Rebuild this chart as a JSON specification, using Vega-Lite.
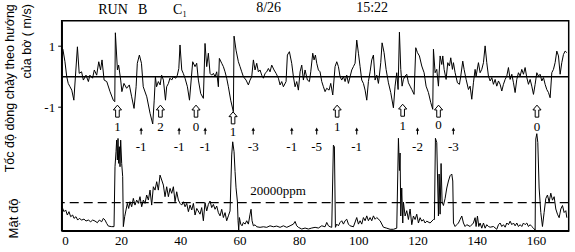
{
"$schema": "https://vega.github.io/schema/vega-lite/v6.json",
"width": 507, "height": 210,
"autosize": {"type": "none"},
"padding": {"left": 61.7, "top": 20.7, "right": 6.3, "bottom": 21.3},
"background": "white",
"config": {"view": {"stroke": "black", "strokeWidth": 1.5}, "font": "Liberation Serif", "axis": {"grid": false, "labelColor": "black", "domainColor": "black", "tickColor": "black", "titleColor": "black"}},
"datasets": {
"vel": [
{"t":0,"v":0.85},{"t":0.4,"v":0.9},{"t":1.1,"v":0.49},{"t":1.7,"v":0.0},{"t":2.2,"v":-0.22},{"t":2.8,"v":-0.33},{"t":3.4,"v":-0.44},{"t":4.1,"v":-0.77},{"t":5.3,"v":0.98},{"t":5.9,"v":0.11},{"t":6.7,"v":0.16},{"t":7.3,"v":-0.11},{"t":8.2,"v":0.05},{"t":9.0,"v":-0.16},{"t":9.5,"v":0.05},{"t":10.4,"v":-0.05},{"t":11.0,"v":0.22},{"t":11.8,"v":0.05},{"t":12.5,"v":0.49},{"t":13.1,"v":0.22},{"t":13.6,"v":0.55},{"t":14.3,"v":-0.11},{"t":15.2,"v":-0.16},{"t":16.3,"v":-0.49},{"t":17.4,"v":-0.77},{"t":17.9,"v":-0.82},{"t":18.1,"v":1.44},{"t":18.8,"v":0.22},{"t":19.2,"v":0.38},{"t":19.9,"v":-0.11},{"t":20.3,"v":-0.49},{"t":21.0,"v":-0.22},{"t":21.9,"v":-0.38},{"t":22.8,"v":-0.27},{"t":23.6,"v":-0.66},{"t":24.4,"v":-1.04},{"t":25.1,"v":-0.33},{"t":25.5,"v":0.44},{"t":26.2,"v":0.71},{"t":26.9,"v":0.44},{"t":27.5,"v":-0.33},{"t":28.7,"v":-0.66},{"t":29.8,"v":-1.2},{"t":30.7,"v":-1.55},{"t":31.2,"v":-0.77},{"t":31.6,"v":0.0},{"t":32.0,"v":-0.33},{"t":32.6,"v":-0.16},{"t":33.2,"v":-0.27},{"t":33.7,"v":0.05},{"t":34.3,"v":-0.11},{"t":35.0,"v":-0.77},{"t":35.4,"v":-0.33},{"t":36.0,"v":-0.22},{"t":36.5,"v":-0.05},{"t":37.1,"v":-0.11},{"t":37.7,"v":0.0},{"t":38.5,"v":-0.05},{"t":39.0,"v":0.05},{"t":39.5,"v":0.27},{"t":39.9,"v":1.04},{"t":40.5,"v":0.22},{"t":41.0,"v":0.11},{"t":41.6,"v":-0.05},{"t":42.4,"v":-0.33},{"t":43.1,"v":-0.77},
{"t":44.18,"v":0.49},{"t":44.97,"v":0.33},{"t":45.53,"v":0.44},{"t":46.1,"v":-0.11},{"t":46.88,"v":-0.55},{"t":47.78,"v":-0.71},{"t":48.34,"v":1.09},{"t":48.91,"v":0.33},{"t":49.47,"v":0.77},{"t":50.03,"v":0.11},{"t":50.59,"v":0.05},{"t":51.16,"v":0.11},{"t":51.72,"v":0.0},{"t":52.28,"v":0.16},{"t":52.84,"v":-0.33},{"t":53.18,"v":0.6},{"t":53.97,"v":0.44},{"t":54.53,"v":0.33},{"t":55.09,"v":0.16},{"t":55.65,"v":-0.05},{"t":56.22,"v":-0.33},{"t":57.0,"v":-0.77},{"t":57.9,"v":-1.15},{"t":58.13,"v":1.33},{"t":58.8,"v":0.87},{"t":59.59,"v":0.49},{"t":60.15,"v":0.33},{"t":60.72,"v":0.16},{"t":61.28,"v":0.0},{"t":62.18,"v":-0.11},{"t":62.96,"v":-0.27},{"t":63.53,"v":-0.11},{"t":64.09,"v":0.0},{"t":64.65,"v":0.55},{"t":65.21,"v":0.22},{"t":65.78,"v":0.44},{"t":66.34,"v":0.16},{"t":66.9,"v":0.22},{"t":67.46,"v":0.05},{"t":68.03,"v":-0.05},{"t":68.59,"v":0.11},{"t":69.15,"v":0.16},{"t":69.71,"v":0.27},{"t":70.27,"v":0.16},{"t":70.84,"v":0.38},{"t":71.62,"v":0.22},{"t":72.3,"v":0.11},{"t":73.09,"v":-0.05},{"t":73.65,"v":-0.27},{"t":74.21,"v":-0.16},{"t":74.77,"v":-0.33},{"t":75.67,"v":-0.16},{"t":76.12,"v":0.71},{"t":76.8,"v":0.82},{"t":77.58,"v":0.44},{"t":78.15,"v":0.0},{"t":78.71,"v":-0.33},{"t":79.27,"v":-0.16},{"t":79.83,"v":-0.44},{"t":80.4,"v":0.16},{"t":80.96,"v":0.38},{"t":81.52,"v":-0.11},{"t":82.08,"v":0.22},{"t":82.87,"v":-0.11},{"t":83.55,"v":-0.16},{"t":84.0,"v":0.16},{"t":84.67,"v":0.77},{"t":85.12,"v":0.55},{"t":85.57,"v":0.71},{"t":86.02,"v":0.44},{"t":86.58,"v":0.22},{"t":87.14,"v":0.16},{"t":87.71,"v":-0.16},{"t":88.27,"v":-0.33},{"t":88.83,"v":-0.49},{"t":89.39,"v":-0.38},{"t":90.18,"v":-0.44},{"t":90.74,"v":-0.22},{"t":91.42,"v":-0.6},{"t":92.2,"v":0.33},{"t":92.77,"v":0.49},{"t":93.33,"v":0.33},{"t":93.89,"v":0.0},{"t":94.45,"v":-0.11},{"t":95.02,"v":0.0},{"t":95.58,"v":-0.16},{"t":96.14,"v":0.05},{"t":96.7,"v":-0.22},{"t":97.26,"v":0.0},{"t":97.83,"v":0.22},{"t":98.39,"v":0.33},{"t":98.95,"v":0.44},{"t":99.51,"v":1.2},{"t":100.08,"v":0.77},{"t":100.64,"v":0.33},{"t":101.2,"v":-0.11},{"t":101.76,"v":-0.22},{"t":102.33,"v":-0.44},{"t":102.89,"v":-0.77},{"t":103.45,"v":-0.16},{"t":104.01,"v":0.16},{"t":104.57,"v":0.55},{"t":105.14,"v":0.71},{"t":105.7,"v":-0.11},{"t":106.26,"v":0.05},{"t":106.82,"v":-0.22},{"t":107.1,"v":0.0},
{"t":107.61,"v":0.46},{"t":108.06,"v":1.11},{"t":108.73,"v":0.79},{"t":109.41,"v":0.24},{"t":110.2,"v":-0.2},{"t":110.98,"v":-0.52},{"t":111.88,"v":-1.02},{"t":112.44,"v":-0.31},{"t":113.01,"v":0.13},{"t":113.46,"v":-0.42},{"t":113.91,"v":1.46},{"t":114.36,"v":0.24},{"t":114.81,"v":-0.31},{"t":115.26,"v":-0.09},{"t":115.82,"v":0.02},{"t":116.38,"v":0.08},{"t":116.94,"v":-0.2},{"t":117.5,"v":-0.31},{"t":118.07,"v":-0.42},{"t":118.85,"v":-0.58},{"t":119.42,"v":0.95},{"t":119.98,"v":0.79},{"t":120.65,"v":0.68},{"t":121.44,"v":0.35},{"t":122.23,"v":0.13},{"t":122.9,"v":-0.31},{"t":123.69,"v":-0.52},{"t":124.48,"v":-0.85},{"t":125.15,"v":-1.07},{"t":125.38,"v":0.9},{"t":125.94,"v":0.13},{"t":126.5,"v":0.24},{"t":127.06,"v":-0.31},{"t":127.63,"v":0.68},{"t":128.19,"v":0.4},{"t":128.53,"v":0.68},{"t":128.98,"v":0.24},{"t":129.65,"v":-0.09},{"t":130.21,"v":0.46},{"t":130.78,"v":0.35},{"t":131.22,"v":0.62},{"t":131.79,"v":0.24},{"t":132.12,"v":0.46},{"t":132.69,"v":0.13},{"t":133.47,"v":-0.2},{"t":134.15,"v":-0.25},{"t":134.6,"v":0.02},{"t":135.27,"v":0.51},{"t":135.72,"v":0.24},{"t":136.4,"v":-0.09},{"t":137.19,"v":-0.42},{"t":137.75,"v":-0.31},{"t":138.31,"v":-0.74},{"t":138.87,"v":-0.2},{"t":139.43,"v":0.24},{"t":139.77,"v":0.02},{"t":140.56,"v":0.46},{"t":141.12,"v":0.13},{"t":141.68,"v":0.24},{"t":142.25,"v":0.46},{"t":142.81,"v":1.01},{"t":143.37,"v":0.46},{"t":143.93,"v":0.02},{"t":144.5,"v":-0.14},{"t":145.06,"v":-0.03},{"t":145.62,"v":-0.25},{"t":146.18,"v":-0.09},{"t":146.74,"v":-0.31},{"t":147.31,"v":-0.14},{"t":147.87,"v":-0.25},{"t":148.43,"v":-0.47},{"t":148.99,"v":-0.25},{"t":149.56,"v":-0.09},{"t":150.12,"v":0.02},{"t":150.68,"v":0.3},{"t":151.24,"v":-0.09},{"t":151.81,"v":0.08},{"t":152.37,"v":-0.2},{"t":152.93,"v":-0.52},{"t":153.49,"v":-0.09},{"t":154.05,"v":0.13},{"t":154.62,"v":0.02},{"t":155.18,"v":0.24},{"t":155.74,"v":0.08},{"t":156.3,"v":0.3},{"t":156.87,"v":-0.03},{"t":157.43,"v":-0.25},{"t":157.99,"v":-0.09},{"t":158.55,"v":-0.31},{"t":159.12,"v":-0.58},{"t":159.68,"v":-0.25},{"t":160.24,"v":0.13},{"t":160.8,"v":0.02},{"t":161.36,"v":0.08},{"t":161.93,"v":-0.14},{"t":162.49,"v":-0.03},{"t":163.05,"v":-0.25},{"t":163.61,"v":-0.42},{"t":164.18,"v":-0.52},{"t":164.74,"v":-0.69},{"t":165.3,"v":0.13},{"t":165.86,"v":0.24},{"t":166.42,"v":0.46},{"t":166.99,"v":0.84},{"t":167.55,"v":0.68},{"t":168.11,"v":0.08},{"t":168.67,"v":0.46},{"t":169.24,"v":0.73},{"t":169.8,"v":0.84},{"t":170.36,"v":0.79}
],
"dens": [
{"t":0,"d":17100},{"t":0.33,"d":15900},{"t":0.78,"d":13600},{"t":1.34,"d":14800},{"t":1.9,"d":11200},{"t":2.46,"d":13600},{"t":3.03,"d":10000},{"t":3.7,"d":11200},{"t":4.15,"d":8800},{"t":4.82,"d":10000},{"t":5.39,"d":7600},{"t":5.95,"d":8800},{"t":6.74,"d":7600},{"t":7.52,"d":8300},{"t":8.2,"d":6900},{"t":8.99,"d":7600},{"t":9.77,"d":6400},{"t":10.45,"d":7600},{"t":11.23,"d":6900},{"t":12.02,"d":5700},{"t":12.7,"d":7600},{"t":13.48,"d":6400},{"t":14.05,"d":8800},{"t":14.61,"d":7600},{"t":15.17,"d":5200},{"t":15.74,"d":3300},{"t":16.86,"d":2900},{"t":17.65,"d":2900},{"t":17.98,"d":45700},{"t":18.32,"d":56400},{"t":18.54,"d":64700},{"t":18.77,"d":50500},{"t":18.99,"d":65900},{"t":19.22,"d":48100},{"t":19.44,"d":60000},{"t":19.67,"d":45700},{"t":19.89,"d":64700},{"t":20.23,"d":48100},{"t":20.57,"d":38600},{"t":20.79,"d":2900},{"t":21.24,"d":10000},{"t":21.69,"d":14800},{"t":22.14,"d":19500},{"t":22.59,"d":15900},{"t":23.04,"d":20700},{"t":23.6,"d":17100},{"t":24.16,"d":23100},{"t":24.72,"d":18300},{"t":25.29,"d":21900},{"t":25.85,"d":19500},{"t":26.41,"d":24300},{"t":26.98,"d":17100},{"t":27.54,"d":21900},{"t":28.1,"d":19500},{"t":28.66,"d":25500},{"t":29.23,"d":21900},{"t":29.79,"d":29000},{"t":30.35,"d":18300},{"t":30.91,"d":31400},{"t":31.48,"d":29000},{"t":32.04,"d":35000},{"t":32.6,"d":29000},{"t":33.16,"d":39700},{"t":33.73,"d":36200},{"t":34.29,"d":32600},{"t":34.85,"d":24300},{"t":35.41,"d":31400},{"t":35.98,"d":24300},{"t":36.54,"d":30200},{"t":37.1,"d":26700},{"t":37.67,"d":31400},{"t":38.23,"d":20700},{"t":38.79,"d":27800},{"t":39.35,"d":21900},{"t":39.92,"d":19500},{"t":40.48,"d":18300},{"t":41.04,"d":20700},{"t":41.61,"d":17100},{"t":42.17,"d":19500},{"t":42.73,"d":13600},{"t":43.29,"d":18300},{"t":43.86,"d":14800},{"t":44.42,"d":19500},{"t":44.98,"d":11200},{"t":45.55,"d":15900},
{"t":46.66,"d":11800},{"t":47.22,"d":16500},{"t":47.78,"d":7100},{"t":48.34,"d":20000},{"t":48.91,"d":14100},{"t":49.47,"d":18800},{"t":50.03,"d":21200},{"t":50.59,"d":16500},{"t":51.16,"d":18800},{"t":51.72,"d":15300},{"t":52.28,"d":17600},{"t":52.84,"d":12900},{"t":53.41,"d":10600},{"t":53.97,"d":15300},{"t":54.53,"d":9400},{"t":55.09,"d":12900},{"t":55.65,"d":7100},{"t":56.22,"d":10600},{"t":56.78,"d":14100},{"t":57.34,"d":54100},{"t":57.68,"d":63500},{"t":58.13,"d":56400},{"t":58.47,"d":42300},{"t":58.8,"d":30600},{"t":59.25,"d":21200},{"t":59.48,"d":7100},{"t":59.7,"d":500},{"t":59.93,"d":9400},{"t":60.38,"d":4700},{"t":60.83,"d":3500},{"t":61.28,"d":5900},{"t":61.84,"d":4700},{"t":62.4,"d":7100},{"t":62.96,"d":4700},{"t":63.53,"d":11800},{"t":63.86,"d":15300},{"t":64.2,"d":7100},{"t":64.65,"d":3500},{"t":65.21,"d":4200},{"t":65.78,"d":2800},{"t":66.9,"d":2400},{"t":68.03,"d":2800},{"t":69.15,"d":2400},{"t":70.27,"d":3500},{"t":71.4,"d":2800},{"t":72.52,"d":3300},{"t":73.65,"d":2400},{"t":74.77,"d":3500},{"t":75.9,"d":2400},{"t":77.02,"d":3500},{"t":78.15,"d":4700},{"t":78.71,"d":6600},{"t":79.27,"d":3500},{"t":79.83,"d":2400},{"t":80.96,"d":1200},{"t":82.08,"d":1900},{"t":83.21,"d":1200},{"t":84.33,"d":1900},{"t":85.46,"d":2400},{"t":86.58,"d":1900},{"t":87.71,"d":3500},{"t":88.83,"d":2800},{"t":89.39,"d":5900},{"t":89.96,"d":3500},{"t":90.52,"d":2800},{"t":91.08,"d":2400},{"t":91.64,"d":61100},{"t":91.98,"d":59900},{"t":92.32,"d":2400},{"t":92.77,"d":4700},{"t":93.33,"d":3500},{"t":93.89,"d":5900},{"t":94.45,"d":7100},{"t":95.02,"d":4700},{"t":95.58,"d":7100},{"t":96.14,"d":8200},{"t":96.7,"d":4700},{"t":97.26,"d":3500},{"t":98.39,"d":2800},{"t":99.51,"d":9400},{"t":100.08,"d":4700},{"t":100.64,"d":7100},{"t":101.2,"d":4700},{"t":101.76,"d":9400},{"t":102.33,"d":7100},{"t":102.89,"d":10600},{"t":103.45,"d":7100},{"t":104.01,"d":9400},{"t":104.57,"d":7100},{"t":105.14,"d":10600},{"t":105.7,"d":8200},{"t":106.26,"d":9400},{"t":107.39,"d":7100},
{"t":108.51,"d":2500},{"t":109.63,"d":1800},{"t":110.76,"d":1000},{"t":111.88,"d":1000},{"t":113.01,"d":1800},{"t":113.57,"d":66000},{"t":113.91,"d":43000},{"t":114.13,"d":55500},{"t":114.36,"d":10500},{"t":114.69,"d":30500},{"t":115.03,"d":5500},{"t":115.26,"d":20500},{"t":115.82,"d":10500},{"t":116.38,"d":14300},{"t":116.94,"d":8000},{"t":117.51,"d":15500},{"t":118.07,"d":4300},{"t":118.63,"d":10500},{"t":119.19,"d":8000},{"t":119.75,"d":11800},{"t":120.32,"d":5500},{"t":120.88,"d":9300},{"t":121.44,"d":6800},{"t":122.0,"d":8000},{"t":122.57,"d":5500},{"t":123.13,"d":6800},{"t":124.25,"d":5500},{"t":125.38,"d":8000},{"t":125.71,"d":8000},{"t":126.05,"d":66000},{"t":126.5,"d":63000},{"t":126.84,"d":30500},{"t":127.06,"d":10500},{"t":127.29,"d":40500},{"t":127.63,"d":11800},{"t":127.96,"d":48000},{"t":128.3,"d":20500},{"t":128.75,"d":18000},{"t":129.31,"d":23000},{"t":129.88,"d":30500},{"t":130.44,"d":35500},{"t":131.0,"d":39300},{"t":131.56,"d":40500},{"t":131.9,"d":35500},{"t":132.13,"d":5500},{"t":132.69,"d":3000},{"t":133.25,"d":4300},{"t":133.81,"d":5500},{"t":134.37,"d":8000},{"t":134.94,"d":10500},{"t":135.5,"d":5500},{"t":136.06,"d":3000},{"t":136.62,"d":4300},{"t":137.75,"d":3000},{"t":138.87,"d":5500},{"t":139.43,"d":9300},{"t":139.77,"d":3000},{"t":140.22,"d":10500},{"t":140.67,"d":3000},{"t":141.12,"d":5500},{"t":141.68,"d":1800},{"t":142.25,"d":5500},{"t":142.81,"d":1800},{"t":143.37,"d":4300},{"t":143.93,"d":3000},{"t":144.5,"d":2500},{"t":145.62,"d":3000},{"t":146.74,"d":1000},{"t":147.31,"d":4300},{"t":147.87,"d":5500},{"t":148.43,"d":3000},{"t":148.99,"d":4300},{"t":149.56,"d":2500},{"t":150.12,"d":5500},{"t":150.68,"d":4300},{"t":151.24,"d":6800},{"t":151.81,"d":4300},{"t":152.37,"d":5500},{"t":152.93,"d":3500},{"t":153.49,"d":5500},{"t":154.05,"d":3000},{"t":154.62,"d":4300},{"t":155.18,"d":3000},{"t":155.74,"d":5500},{"t":156.3,"d":4300},{"t":156.87,"d":5500},{"t":157.43,"d":3000},{"t":157.99,"d":4300},{"t":158.55,"d":3000},{"t":159.12,"d":1800},{"t":159.68,"d":500},{"t":159.9,"d":65500},{"t":160.24,"d":69300},{"t":160.58,"d":63000},{"t":161.03,"d":30500},{"t":161.59,"d":13000},{"t":162.15,"d":3000},{"t":162.71,"d":13000},{"t":163.28,"d":23000},{"t":163.84,"d":25500},{"t":164.4,"d":20500},{"t":164.96,"d":26800},{"t":165.53,"d":21800},{"t":166.09,"d":24300},{"t":166.65,"d":15500},{"t":167.21,"d":11800},{"t":167.78,"d":9300},{"t":168.34,"d":15500},{"t":168.9,"d":18000},{"t":169.46,"d":13000},{"t":170.03,"d":14300},{"t":170.36,"d":9300}
],
"hollow": [
{"t":18.8,"v":-1.13,"lv":-1.65,"lab":"1"},{"t":33.3,"v":-1.13,"lv":-1.65,"lab":"2"},{"t":45.3,"v":-1.13,"lv":-1.65,"lab":"0"},{"t":57.8,"v":-1.35,"lv":-1.82,"lab":"1"},{"t":92.9,"v":-1.13,"lv":-1.65,"lab":"1"},{"t":115.0,"v":-1.1,"lv":-1.62,"lab":"1"},{"t":127.1,"v":-1.13,"lv":-1.6,"lab":"0"},{"t":160.3,"v":-1.13,"lv":-1.65,"lab":"0"}
],
"small": [
{"t":26.8,"v":-1.78,"lv":-2.3,"lab":"-1"},{"t":39.6,"v":-1.78,"lv":-2.3,"lab":"-1"},{"t":48.4,"v":-1.78,"lv":-2.3,"lab":"-1"},{"t":64.6,"v":-1.78,"lv":-2.3,"lab":"-3"},{"t":77.6,"v":-1.78,"lv":-2.3,"lab":"-1"},{"t":86.0,"v":-1.78,"lv":-2.3,"lab":"-5"},{"t":99.5,"v":-1.78,"lv":-2.3,"lab":"-1"},{"t":120.0,"v":-1.78,"lv":-2.3,"lab":"-2"},{"t":132.1,"v":-1.78,"lv":-2.3,"lab":"-3"}
],
"top": [
{"t":17.3,"v":2.2,"lab":"RUN"},{"t":27.3,"v":2.2,"lab":"B"},{"t":39.9,"v":2.2,"lab":"C₁"},{"t":69.8,"v":2.25,"lab":"8/26"},{"t":104.7,"v":2.25,"lab":"15:22"}
]
},
"layer": [
{"layer": [
{"data": {"name": "vel"},
 "mark": {"type": "line", "stroke": "black", "strokeWidth": 1, "interpolate": "linear"},
 "encoding": {
  "x": {"field": "t", "type": "quantitative", "scale": {"domain": [0, 171], "nice": false, "zero": false},
        "axis": {"values": [0,20,40,60,80,100,120,140,160], "title": null, "grid": false, "ticks": false, "labelPadding": 4, "labelFont": "Liberation Serif", "labelFontSize": 13, "labelColor": "black", "domainColor": "black", "domainWidth": 1.8}},
  "y": {"field": "v", "type": "quantitative", "scale": {"domain": [-5.05, 1.836], "nice": false, "zero": false},
        "axis": {"values": [1, -1], "labelExpr": "datum.value == 1 ? '1' : '-1'", "grid": false, "tickSize": 4, "tickColor": "black", "labelPadding": 3, "labelFont": "Liberation Serif", "labelFontSize": 13, "labelColor": "black", "domainColor": "black", "domainWidth": 1.5,
                 "title": ["Tốc độ dòng chảy theo hướng", "của bờ ( m/s)"], "titleFont": "Liberation Sans", "titleFontSize": 12.5, "titleFontWeight": "normal", "titleColor": "black", "titleAngle": -90, "titleAlign": "right", "titleBaseline": "top", "titleLineHeight": 17, "titleX": -58, "titleY": -17}}
 }},
{"data": {"values": [{"v": 0}]},
 "mark": {"type": "rule", "stroke": "black", "strokeWidth": 1.4},
 "encoding": {"y": {"field": "v", "type": "quantitative"}}},
{"data": {"name": "hollow"},
 "mark": {"type": "point", "shape": "M0,-1 L0.68,-0.2 L0.3,-0.2 L0.3,1 L-0.3,1 L-0.3,-0.2 L-0.68,-0.2 Z", "filled": true, "fill": "white", "stroke": "black", "strokeWidth": 1, "size": 144, "opacity": 1},
 "encoding": {"x": {"field": "t", "type": "quantitative"}, "y": {"field": "v", "type": "quantitative"}}},
{"data": {"name": "hollow"},
 "mark": {"type": "text", "font": "Liberation Serif", "fontSize": 13, "color": "black", "baseline": "middle", "align": "center"},
 "encoding": {"x": {"field": "t", "type": "quantitative"}, "y": {"field": "lv", "type": "quantitative"}, "text": {"field": "lab"}}},
{"data": {"name": "small"},
 "mark": {"type": "point", "shape": "M0,-1 L0.5,-0.1 L0.15,-0.1 L0.15,1 L-0.15,1 L-0.15,-0.1 L-0.5,-0.1 Z", "filled": true, "fill": "black", "strokeWidth": 0, "size": 49, "opacity": 1},
 "encoding": {"x": {"field": "t", "type": "quantitative"}, "y": {"field": "v", "type": "quantitative"}}},
{"data": {"name": "small"},
 "mark": {"type": "text", "font": "Liberation Serif", "fontSize": 13, "color": "black", "baseline": "middle", "align": "center"},
 "encoding": {"x": {"field": "t", "type": "quantitative"}, "y": {"field": "lv", "type": "quantitative"}, "text": {"field": "lab"}}},
{"data": {"name": "top"},
 "mark": {"type": "text", "font": "Liberation Serif", "fontSize": 14, "color": "black", "baseline": "middle", "align": "center"},
 "encoding": {"x": {"field": "t", "type": "quantitative"}, "y": {"field": "v", "type": "quantitative"}, "text": {"field": "lab"}}}
]},
{"layer": [
{"data": {"name": "dens"},
 "mark": {"type": "line", "stroke": "black", "strokeWidth": 1},
 "encoding": {
  "x": {"field": "t", "type": "quantitative"},
  "y": {"field": "d", "type": "quantitative", "scale": {"domain": [0, 150000], "nice": false, "zero": false},
        "axis": {"orient": "left", "labels": false, "ticks": false, "domain": false, "grid": false, "title": "Mật độ", "titleFont": "Liberation Sans", "titleFontSize": 13, "titleFontWeight": "normal", "titleColor": "black", "titleAngle": -90, "titleAlign": "center", "titleBaseline": "middle", "titleX": -48.4, "titleY": 197.3}}
 }},
{"data": {"values": [{"d": 20000}]},
 "mark": {"type": "rule", "stroke": "black", "strokeWidth": 1.3, "strokeDash": [9, 5]},
 "encoding": {"y": {"field": "d", "type": "quantitative"}}},
{"data": {"values": [{"t": 73, "d": 28300, "lab": "20000ppm"}]},
 "mark": {"type": "text", "font": "Liberation Serif", "fontSize": 13, "color": "black", "baseline": "middle", "align": "center"},
 "encoding": {"x": {"field": "t", "type": "quantitative"}, "y": {"field": "d", "type": "quantitative"}, "text": {"field": "lab"}}}
]}
],
"resolve": {"scale": {"y": "independent"}}
}
